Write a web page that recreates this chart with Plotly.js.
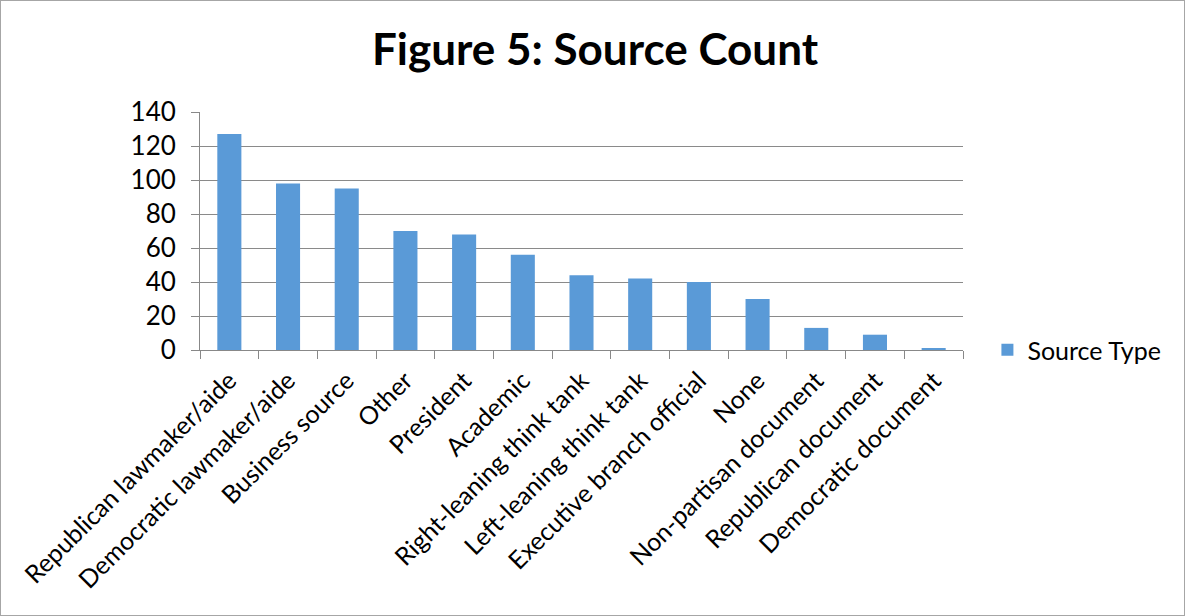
<!DOCTYPE html>
<html>
<head>
<meta charset="utf-8">
<script src="https://cdn.plot.ly/plotly-3.0.1.min.js"></script>
<style>
  html, body { margin: 0; padding: 0; background: #fff; }
  #wrap { position: relative; width: 1185px; height: 616px; }
  #chart { width: 1185px; height: 616px; }
  #frame { position: absolute; left: 0; top: 0; width: 1185px; height: 616px; box-sizing: border-box; border: 1px solid #a6a6a6; pointer-events: none; }
</style>
</head>
<body>
<div id="wrap">
  <div id="chart"></div>
  <div id="frame"></div>
</div>
<script>
const categories = [
  "Republican lawmaker/aide",
  "Democratic lawmaker/aide",
  "Business source",
  "Other",
  "President",
  "Academic",
  "Right-leaning think tank",
  "Left-leaning think tank",
  "Executive branch official",
  "None",
  "Non-partisan document",
  "Republican document",
  "Democratic document"
];
const sourceCounts = [127, 98, 95, 70, 68, 56, 44, 42, 40, 30, 13, 9, 1];
const seriesName = "Source Type";
const yTicks = [0, 20, 40, 60, 80, 100, 120, 140];

const fontFam = "Lato, 'Open Sans', 'DejaVu Sans', sans-serif";

const trace = {
  type: "bar",
  x: categories,
  y: sourceCounts,
  name: seriesName,
  showlegend: true,
  marker: { color: "#5a9ad7", line: { width: 0 } },
  hoverinfo: "x+y"
};

const layout = {
  width: 1185,
  height: 616,
  paper_bgcolor: "#ffffff",
  plot_bgcolor: "#ffffff",
  margin: { l: 200, r: 222, t: 112, b: 266 },
  bargap: 0.59,
  font: { family: fontFam, color: "#000000", size: 25 },
  title: {
    text: "<b>Figure 5: Source Count</b>",
    font: { family: fontFam, size: 44, color: "#000000" },
    x: 595 / 1185, xref: "container", xanchor: "center",
    y: 1 - 50 / 616, yref: "container", yanchor: "middle"
  },
  xaxis: {
    type: "category",
    tickangle: -45,
    ticks: "outside",
    tickson: "boundaries",
    ticklen: 8,
    tickcolor: "#888888",
    tickwidth: 1,
    ticklabelstandoff: 5,
    showline: true,
    linecolor: "#888888",
    linewidth: 1,
    showgrid: false,
    tickfont: { family: fontFam, size: 25, color: "#000000" },
    automargin: false
  },
  yaxis: {
    range: [0, 140],
    tickvals: yTicks,
    ticktext: yTicks.map(String),
    ticks: "outside",
    ticklen: 8,
    tickcolor: "#888888",
    ticklabelstandoff: 10,
    showline: true,
    linecolor: "#888888",
    linewidth: 1,
    showgrid: true,
    gridcolor: "#8a8a8a",
    gridwidth: 1.3,
    zeroline: false,
    tickfont: { family: fontFam, size: 26, color: "#000000" },
    automargin: false
  },
  legend: {
    x: 1.032, xanchor: "left",
    y: 0.0, yanchor: "middle",
    font: { family: fontFam, size: 25, color: "#000000" },
    bgcolor: "rgba(0,0,0,0)",
    itemsizing: "constant"
  }
};

Plotly.newPlot("chart", [trace], layout, { displayModeBar: false, responsive: false });
</script>
</body>
</html>
